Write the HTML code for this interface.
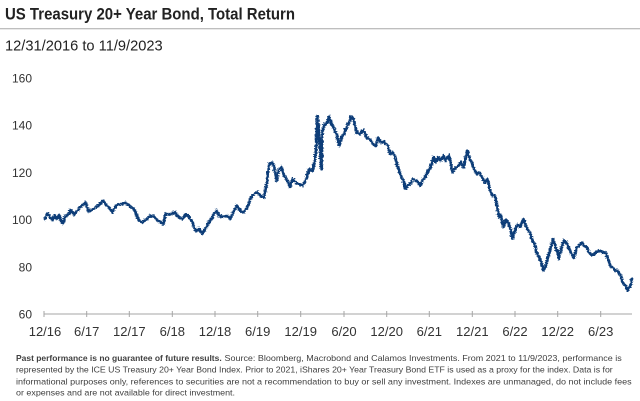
<!DOCTYPE html>
<html>
<head>
<meta charset="utf-8">
<style>
  html,body{margin:0;padding:0;background:#fff;}
  svg{display:block;}
  text{font-family:"Liberation Sans",sans-serif;}
</style>
</head>
<body>
<svg width="640" height="401" viewBox="0 0 640 401" xmlns="http://www.w3.org/2000/svg">
  <defs>
    <filter id="jag" x="-5%" y="-10%" width="110%" height="120%" filterUnits="objectBoundingBox">
      <feTurbulence type="turbulence" baseFrequency="0.35 0.5" numOctaves="2" seed="3" result="n"/>
      <feDisplacementMap in="SourceGraphic" in2="n" scale="3" xChannelSelector="R" yChannelSelector="G"/>
    </filter>
  </defs>
  <rect width="640" height="401" fill="#fff"/>
  <!-- Title -->
  <text x="5" y="19.5" font-size="17" font-weight="bold" fill="#222" textLength="290" lengthAdjust="spacingAndGlyphs">US Treasury 20+ Year Bond, Total Return</text>
  <line x1="0" y1="28.7" x2="640" y2="28.7" stroke="#a8a8a8" stroke-width="1"/>
  <text x="5" y="50.7" font-size="15" fill="#222" textLength="157.7" lengthAdjust="spacingAndGlyphs">12/31/2016 to 11/9/2023</text>

  <!-- Y axis labels -->
  <g font-size="12" fill="#333" text-anchor="end">
    <text x="32" y="82.5">160</text>
    <text x="32" y="129.7">140</text>
    <text x="32" y="176.9">120</text>
    <text x="32" y="224.1">100</text>
    <text x="32" y="271.3">80</text>
    <text x="32" y="318.5">60</text>
  </g>

  <!-- X axis -->
  <line x1="44" y1="314" x2="632" y2="314" stroke="#a6a6a6" stroke-width="1"/>
  <g stroke="#a6a6a6" stroke-width="1">
    <line x1="44" y1="311" x2="44" y2="317"/>
    <line x1="86.7" y1="311" x2="86.7" y2="317"/>
    <line x1="129.3" y1="311" x2="129.3" y2="317"/>
    <line x1="172.3" y1="311" x2="172.3" y2="317"/>
    <line x1="215" y1="311" x2="215" y2="317"/>
    <line x1="257.7" y1="311" x2="257.7" y2="317"/>
    <line x1="300.7" y1="311" x2="300.7" y2="317"/>
    <line x1="344" y1="311" x2="344" y2="317"/>
    <line x1="386.7" y1="311" x2="386.7" y2="317"/>
    <line x1="429.3" y1="311" x2="429.3" y2="317"/>
    <line x1="472.3" y1="311" x2="472.3" y2="317"/>
    <line x1="515" y1="311" x2="515" y2="317"/>
    <line x1="557.7" y1="311" x2="557.7" y2="317"/>
    <line x1="600.7" y1="311" x2="600.7" y2="317"/>
  </g>
  <g font-size="13" fill="#333" text-anchor="middle">
    <text x="45" y="336">12/16</text>
    <text x="86.7" y="336">6/17</text>
    <text x="129.3" y="336">12/17</text>
    <text x="172.3" y="336">6/18</text>
    <text x="215" y="336">12/18</text>
    <text x="257.7" y="336">6/19</text>
    <text x="300.7" y="336">12/19</text>
    <text x="344" y="336">6/20</text>
    <text x="386.7" y="336">12/20</text>
    <text x="429.3" y="336">6/21</text>
    <text x="472.3" y="336">12/21</text>
    <text x="515" y="336">6/22</text>
    <text x="557.7" y="336">12/22</text>
    <text x="600.7" y="336">6/23</text>
  </g>

  <!-- Series -->
  <polyline filter="url(#jag)" fill="none" stroke="#0b3d78" stroke-width="2.8" stroke-linejoin="round" stroke-linecap="round" points="
44,218.3 46.7,212.7 49.3,216.7 51.7,219.3 54,215 56.7,218.3 58.3,214 60.7,221.7 62.3,222.7 64,216
68.3,212.7 70,209.3 73.3,214 76.7,210 80,206 82.7,203.3 85,201.7 87.7,211 91.7,209.3 95,206.7
98.3,204 102.3,200 105,204.3 108.3,206.7 111.7,211.7 113.3,208.3 116.7,204 121.7,203.3 125,201.7 128.3,205
131.7,206.7 135,211.7 138.3,220 141.7,221.7 145,219.3 150,215 153.3,216 156.7,220 160,221.7 162.3,224
165,213.3 170,213.3 174,211.7 178.3,216.7 181.7,218.3 185,213.3 188.3,216 191.7,221.7 195,230 198.3,228.3
201.7,232.7 205,227.3 208.3,221.7 211.7,216.7 213.3,213.3 216,210 218.3,215 221.7,216 226,215 229.3,218.3
232.7,211.7 236,205 239.3,210 242.7,211.7 246.7,206.7 250,196.7 253.3,193.3 256.7,191.7 260,195 263.3,196.7
266,183.3 268.3,163.3 271,161.7 273.3,165 275.7,180 278.3,168.3 280.7,166.7 283.3,175 286.7,180 289.3,186.7
291.7,178.3 295,181.7 298.3,183.3 301.7,185 305,180 308.3,168.3 311.7,170 314,160 315.5,148 316.7,115
318,130 319.5,150 320.7,168.3 321.7,130 323.3,125 326.7,121.7 328.3,116 330.7,123.3 333.3,128.3 336,133.3
338.3,145 340.7,136.7 344,131.7 347.3,123.3 350.7,116 353.3,120 355.7,131.7 359,133.3 362.7,129.3 365.7,136.7
369,138.3 372.3,143.3 375,145 377.3,137 380,141.7 382.7,140.7 385,143.3 387.3,145 389.3,153.3 391.7,151.7
394,155 396,163.3 398.3,170 400.7,176.7 402.7,180 405,188.3 407.3,185 410,182.7 412.7,178.3 416,180
419.3,185 421.7,180 425,175 427.3,170 430,166.7 432.7,156.7 435,161.7 437.3,156.7 440,160 442.7,155
445,160 448.3,155 450,163.3 451.7,171.7 454,168.3 457.3,165 460,161.7 462.7,166.7 465,156.7 466.7,150
469,158.3 471,161.7 473.3,168.3 476,173.3 478.3,171.7 481.7,176.7 484,181.7 486.7,178.3 489.3,190 491.7,195
494,195 496,203.3 498.3,216.7 500,215 502.7,226 505,219 507.3,222 510,229 511.7,238 514,230
516.7,224 519.3,226 522.3,218.3 524,221.7 526.7,228.3 529.3,231.7 531.7,240 534,243.3 536,251.7 538.3,256.7
540.7,261.7 542.7,270 545,265 547.3,256.7 550,246.7 552.3,238.3 554.3,245 556.7,251.7 558.3,258.3 560.7,246.7
563.3,240 565.7,241.7 568.3,248.3 571,253.3 573.3,256.7 576,246.7 578.3,245 581,241.7 583.3,245 586,246.7
588.3,251.7 591.7,255 595,251.7 598.3,250 601.7,251.7 605,251.7 606.7,256.7 609.3,265 611.7,266.7 615,270
617.3,270 620,275 622.7,283.3 625,285 626.7,290 628.3,286.7 630,285 631,278.3"/>

  <!-- Footnote -->
  <g font-size="8.4" fill="#404040">
    <text x="16" y="361" font-weight="bold" textLength="205.7" lengthAdjust="spacingAndGlyphs">Past performance is no guarantee of future results.</text>
    <text x="224.5" y="361" textLength="397.2" lengthAdjust="spacingAndGlyphs">Source: Bloomberg, Macrobond and Calamos Investments. From 2021 to 11/9/2023, performance is</text>
    <text x="16" y="372.7" textLength="596.7" lengthAdjust="spacingAndGlyphs">represented by the ICE US Treasury 20+ Year Bond Index. Prior to 2021, iShares 20+ Year Treasury Bond ETF is used as a proxy for the index. Data is for</text>
    <text x="16" y="384.3" textLength="615.7" lengthAdjust="spacingAndGlyphs">informational purposes only, references to securities are not a recommendation to buy or sell any investment.  Indexes are unmanaged, do not include fees</text>
    <text x="16" y="395.7" textLength="219" lengthAdjust="spacingAndGlyphs">or expenses and are not available for direct investment.</text>
  </g>
</svg>
</body>
</html>
